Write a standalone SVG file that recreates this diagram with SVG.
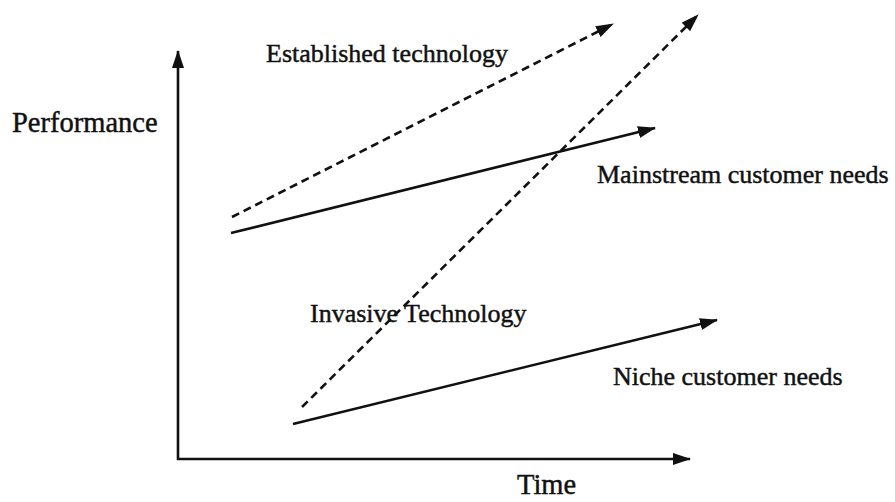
<svg xmlns="http://www.w3.org/2000/svg" width="895" height="502" viewBox="0 0 895 502">
  <style>
    .lbl { font-family: "Liberation Serif", "Times New Roman", serif; font-size: 26px; fill: #111; stroke: #111; stroke-width: 0.45; }
    .big { font-size: 28.5px; }
    .line { stroke: #111; stroke-width: 2.6; fill: none; }
    .dash { stroke-dasharray: 8 5; }
  </style>
  <defs>
    <marker id="head" viewBox="0 0 18 12" refX="17" refY="6" markerWidth="18" markerHeight="12" markerUnits="userSpaceOnUse" orient="auto">
      <path d="M0,0 L18,6 L0,12 Z" fill="#111"/>
    </marker>
  </defs>
  <rect width="895" height="502" fill="#fff"/>

  <!-- axes and trend lines -->
  <g id="connectors">
    <line id="axis-y" class="line" x1="178" y1="460" x2="178" y2="51" marker-end="url(#head)"/>
    <line id="axis-x" class="line" x1="177" y1="459" x2="690" y2="459" marker-end="url(#head)"/>
    <line id="established" class="line dash" x1="232" y1="217" x2="613" y2="24" marker-end="url(#head)"/>
    <line id="mainstream" class="line" x1="231" y1="233" x2="655" y2="128" marker-end="url(#head)"/>
    <line id="invasive" class="line dash" x1="302" y1="407" x2="698" y2="15" marker-end="url(#head)"/>
    <line id="niche" class="line" x1="293" y1="424" x2="717" y2="320" marker-end="url(#head)"/>
  </g>

  <g id="label-performance"><text class="lbl big" x="12" y="132">Performance</text></g>
  <g id="label-time"><text class="lbl big" x="517" y="494">Time</text></g>
  <g id="label-established"><text class="lbl" x="266" y="62">Established technology</text></g>
  <g id="label-mainstream"><text class="lbl" x="597" y="183">Mainstream customer needs</text></g>
  <g id="label-invasive"><text class="lbl" x="310" y="322">Invasive Technology</text></g>
  <g id="label-niche"><text class="lbl" x="613" y="385">Niche customer needs</text></g>
</svg>
